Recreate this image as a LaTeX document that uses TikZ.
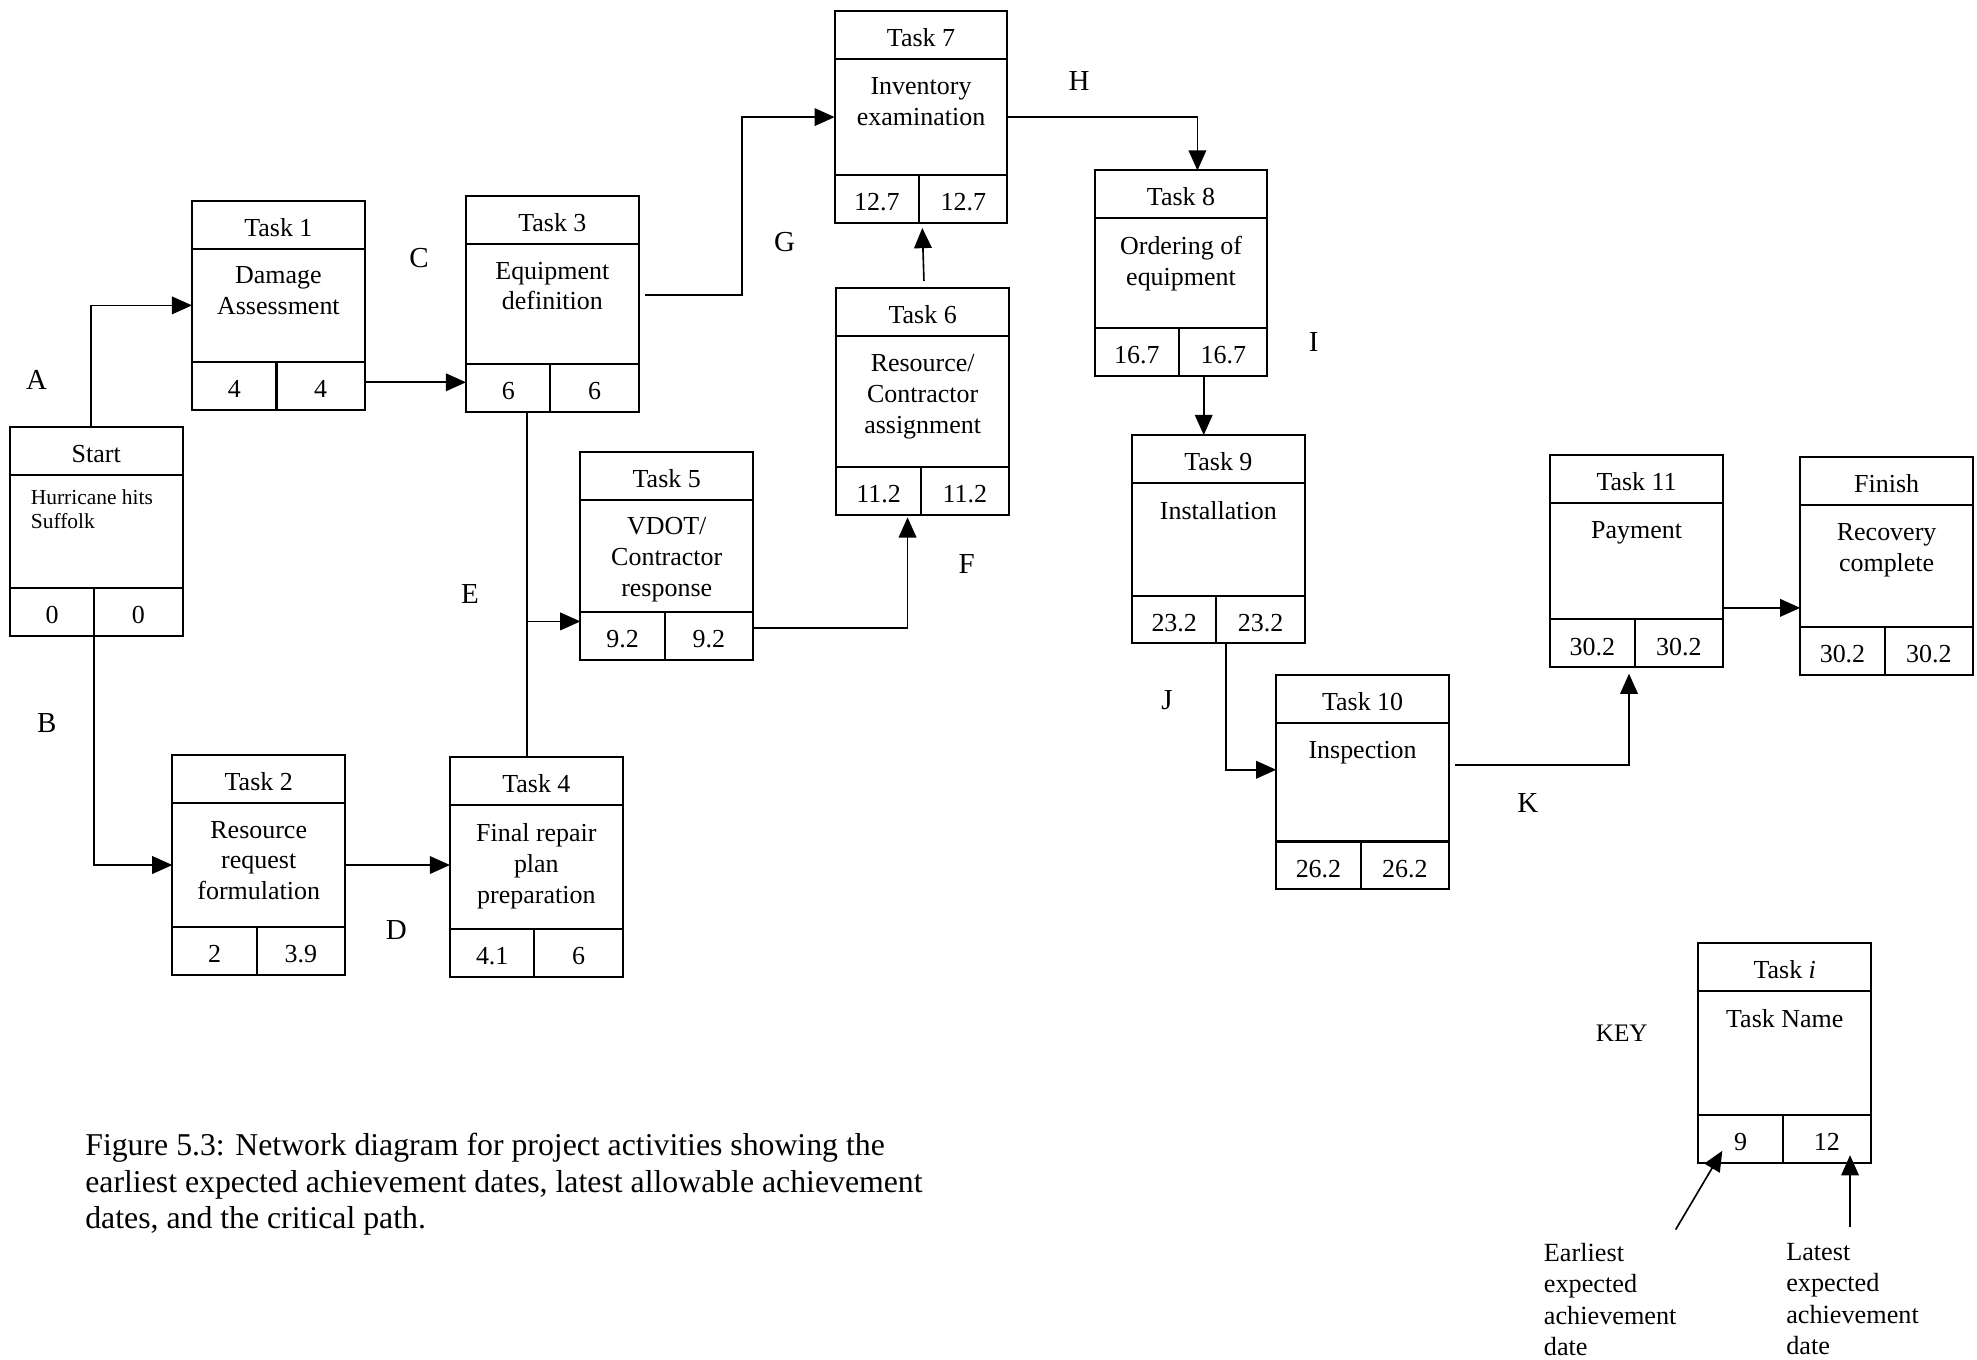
\documentclass[tikz,border=0pt]{standalone}
\usepackage{fontspec}
\setmainfont{Liberation Serif}
\usetikzlibrary{calc,positioning,arrows.meta}

\tikzset{
	box/.style={draw, line width=0.8pt, minimum width=68.5pt, inner sep=0pt, outer sep=0pt},
	sep/.style={line width=0.8pt},
	txt/.style={font=\fontsize{10.3}{12.2}\selectfont, align=center, inner sep=0pt},
	lbl/.style={font=\fontsize{11.5}{13}\selectfont, inner sep=0pt},
	note/.style={font=\fontsize{10.4}{12.5}\selectfont, align=left, inner sep=0pt, anchor=north west},
	link/.style={line width=0.65pt},
	arr/.style={link, -{Triangle[length=8pt,width=7pt]}},
}

\newcommand{\taskbox}[8]{%
	\node[box, minimum height=#4*0.5pt, anchor=north west] (#1) at (#2,#3) {};
	\draw[sep] ($(#1.north west)+(0,38)$) -- ($(#1.north east)+(0,38)$);
	\draw[sep] ($(#1.south west)+(0,-38)$) -- ($(#1.south east)+(0,-38)$);
	\draw[sep] ($(#1.south)+(-1.5,0)$) -- ($(#1.south)+(-1.5,-38)$);
	\node[txt] (#1-title) at ($(#1.north)+(0,21)$) {#5};
	\node[txt, anchor=north] (#1-name) at ($(#1.north)+(0,52)$) {#6};
	\node[txt] (#1-early) at ($(#1.south)+(-35,-16.5)$) {#7};
	\node[txt] (#1-late) at ($(#1.south)+(33.5,-16.5)$) {#8};
}

\begin{document}
\begin{tikzpicture}[x=0.5pt, y=-0.5pt]
	\useasboundingbox (0,0) rectangle (1568,1078);
	\taskbox{start}{7.8}{338.9}{165.6}{Start}{}{0}{0}
	\node[font=\fontsize{8.5}{9.5}\selectfont, align=left, inner sep=0pt, anchor=north west] (start-text) at ($(start.north west)+(16.3,48.7)$) {Hurricane hits\\Suffolk};
	\taskbox{t1}{152.3}{159.2}{166}{Task 1}{Damage\\Assessment}{4}{4}
	\taskbox{t2}{136.7}{598.8}{174.5}{Task 2}{Resource\\request\\formulation}{2}{3.9}
	\taskbox{t3}{369.6}{155.4}{171.1}{Task 3}{Equipment\\definition}{6}{6}
	\taskbox{t4}{356.9}{600.7}{173.9}{Task 4}{Final repair\\plan\\preparation}{4.1}{6}
	\taskbox{t5}{460.3}{358.2}{165.3}{Task 5}{VDOT/\\Contractor\\response}{9.2}{9.2}
	\taskbox{t6}{663.3}{228.7}{179.6}{Task 6}{Resource/\\Contractor\\assignment}{11.2}{11.2}
	\taskbox{t7}{662}{8.9}{167.9}{Task 7}{Inventory\\examination}{12.7}{12.7}
	\taskbox{t8}{868.2}{135.2}{162.9}{Task 8}{Ordering of\\equipment}{16.7}{16.7}
	\taskbox{t9}{897.8}{345}{165.3}{Task 9}{Installation}{23.2}{23.2}
	\taskbox{t10}{1012.2}{535.6}{169.8}{Task 10}{Inspection}{26.2}{26.2}
	\taskbox{t11}{1229.5}{360.9}{168.4}{Task 11}{Payment}{30.2}{30.2}
	\taskbox{fin}{1427.8}{362.7}{172.7}{Finish}{Recovery\\complete}{30.2}{30.2}

	\draw[arr] ($(start.north)+(-4,0)$) |- (t1.west);
	\draw[arr] ($(start.south)+(-2,0)$) |- (t2.west);
	\draw[arr] ($(t1.south east)+(0,-22)$) coordinate (c1) -- (c1 -| t3.west);
	\draw[arr] (t2.east) -- (t2.east -| t4.west);
	\draw[link] ($(t3.south)+(-20,0)$) coordinate (e1) -- (e1 |- t4.north);
	\coordinate (e2) at ($(t5.west)+(0,52)$);
	\draw[arr] (e1 |- e2) -- (e2);
	\draw[arr] ($(t5.east)+(1,57)$) -| ($(t6.south)+(-12,2)$);
	\draw[arr] ($(t3.east)+(5,-7)$) -- ++(77,0) |- (t7.west);
	\draw[arr] ($(t6.north)+(1,-6)$) -- ($(t7.south)+(1,4)$);
	\draw[arr] (t7.east) -| ($(t8.north)+(13,0)$);
	\draw[arr] ($(t8.south)+(18,0)$) coordinate (i1) -- (i1 |- t9.north);
	\draw[arr] ($(t9.south)+(6,0)$) |- ($(t10.west)+(0,-10)$);
	\draw[arr] ($(t10.east)+(5,-14)$) -| ($(t11.south)+(-6,5)$);
	\draw[arr] ($(t11.east)+(0,37)$) coordinate (f1) -- (f1 -| fin.west);

	\foreach \l/\x/\y in {A/29/301.4, B/37.2/573.7, C/332.3/204.5, D/314.4/737.6, E/372.8/471.3, F/766.7/447.4, G/622.3/192, H/855.9/64, I/1042/271, J/925.6/555, K/1211.8/637}
		\node[lbl] (lbl-\l) at (\x,\y) {\l};

	\taskbox{key}{1347}{748.2}{174}{Task \textit{i}}{Task Name}{9}{12}
	\node[font=\fontsize{10}{12}\selectfont, inner sep=0pt] (key-label) at (1286.2,819.6) {KEY};
	\node[note] (early) at (1224.1,985.5) {Earliest\\expected\\achievement\\date};
	\node[note] (late) at (1416.3,985.5) {Latest\\expected\\achievement\\date};
	\draw[arr] ($(key.south west)+(-18,53)$) -- ($(key.south west)+(19,-9.5)$);
	\draw[arr] ($(key.south east)+(-16.7,51.3)$) -- ($(key.south east)+(-16.7,-6)$);

	\node[font=\fontsize{12.6}{14.5}\selectfont, align=left, inner sep=0pt, anchor=north west] (caption) at (67.3,898.5) {Figure 5.3: Network diagram for project activities showing the\\earliest expected achievement dates, latest allowable achievement\\dates, and the critical path.};
\end{tikzpicture}
\end{document}
